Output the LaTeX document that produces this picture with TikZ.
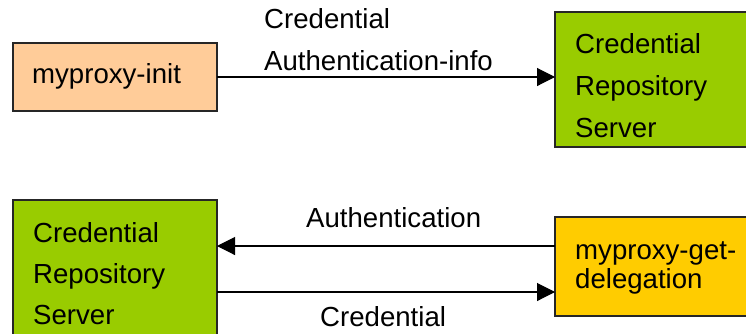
\documentclass[tikz,border=0pt]{standalone}
\usepackage{fontspec}
\setmainfont{Liberation Sans}
\usetikzlibrary{arrows.meta}
\definecolor{peach}{HTML}{FFCC99}
\definecolor{lime}{HTML}{99CC00}
\definecolor{gold}{HTML}{FFCC00}
\begin{document}
\begin{tikzpicture}[x=1pt,y=-1pt,
  box/.style={draw=black!85,line width=1.1pt,anchor=north west,inner sep=0pt,outer sep=0pt},
  txt/.style={anchor=base west,inner sep=0pt,font=\fontsize{27.6}{30}\selectfont},
  arr/.style={line width=1.1pt,-{Triangle[length=18pt,width=18pt]}}]
\useasboundingbox (0,0) rectangle (746,333);
\begin{scope}
\clip (0,0) rectangle (746,333);
\node[box,fill=peach,minimum width=204pt,minimum height=68pt] (init) at (13,43) {};
\node[box,fill=lime,minimum width=220pt,minimum height=135pt] (crs1) at (555,12) {};
\node[box,fill=lime,minimum width=204pt,minimum height=160pt] (crs2) at (13,200) {};
\node[box,fill=gold,minimum width=220pt,minimum height=99pt] (deleg) at (555,217) {};
\end{scope}
\node[txt] (t1) at (32,83) {myproxy-init};
\node[txt] (t2) at (575,53) {Credential};
\node[txt] (t3) at (575,95) {Repository};
\node[txt] (t4) at (575,137) {Server};
\node[txt] (l1) at (264,28) {Credential};
\node[txt] (l2) at (264,70) {Authentication-info};
\node[txt] (t5) at (33,242) {Credential};
\node[txt] (t6) at (33,283) {Repository};
\node[txt] (t7) at (33,324) {Server};
\node[txt] (l3) at (306,227) {Authentication};
\node[txt] (l4) at (320,326) {Credential};
\node[txt] (t8) at (575,259) {myproxy-get-};
\node[txt] (t9) at (575,288) {delegation};
\draw[arr] (init.east) -- (init.east -| crs1.west);
\draw[arr] (deleg.west |- 0,246) -- (crs2.east |- 0,246);
\draw[arr] (crs2.east |- 0,292) -- (deleg.west |- 0,292);
\end{tikzpicture}
\end{document}
